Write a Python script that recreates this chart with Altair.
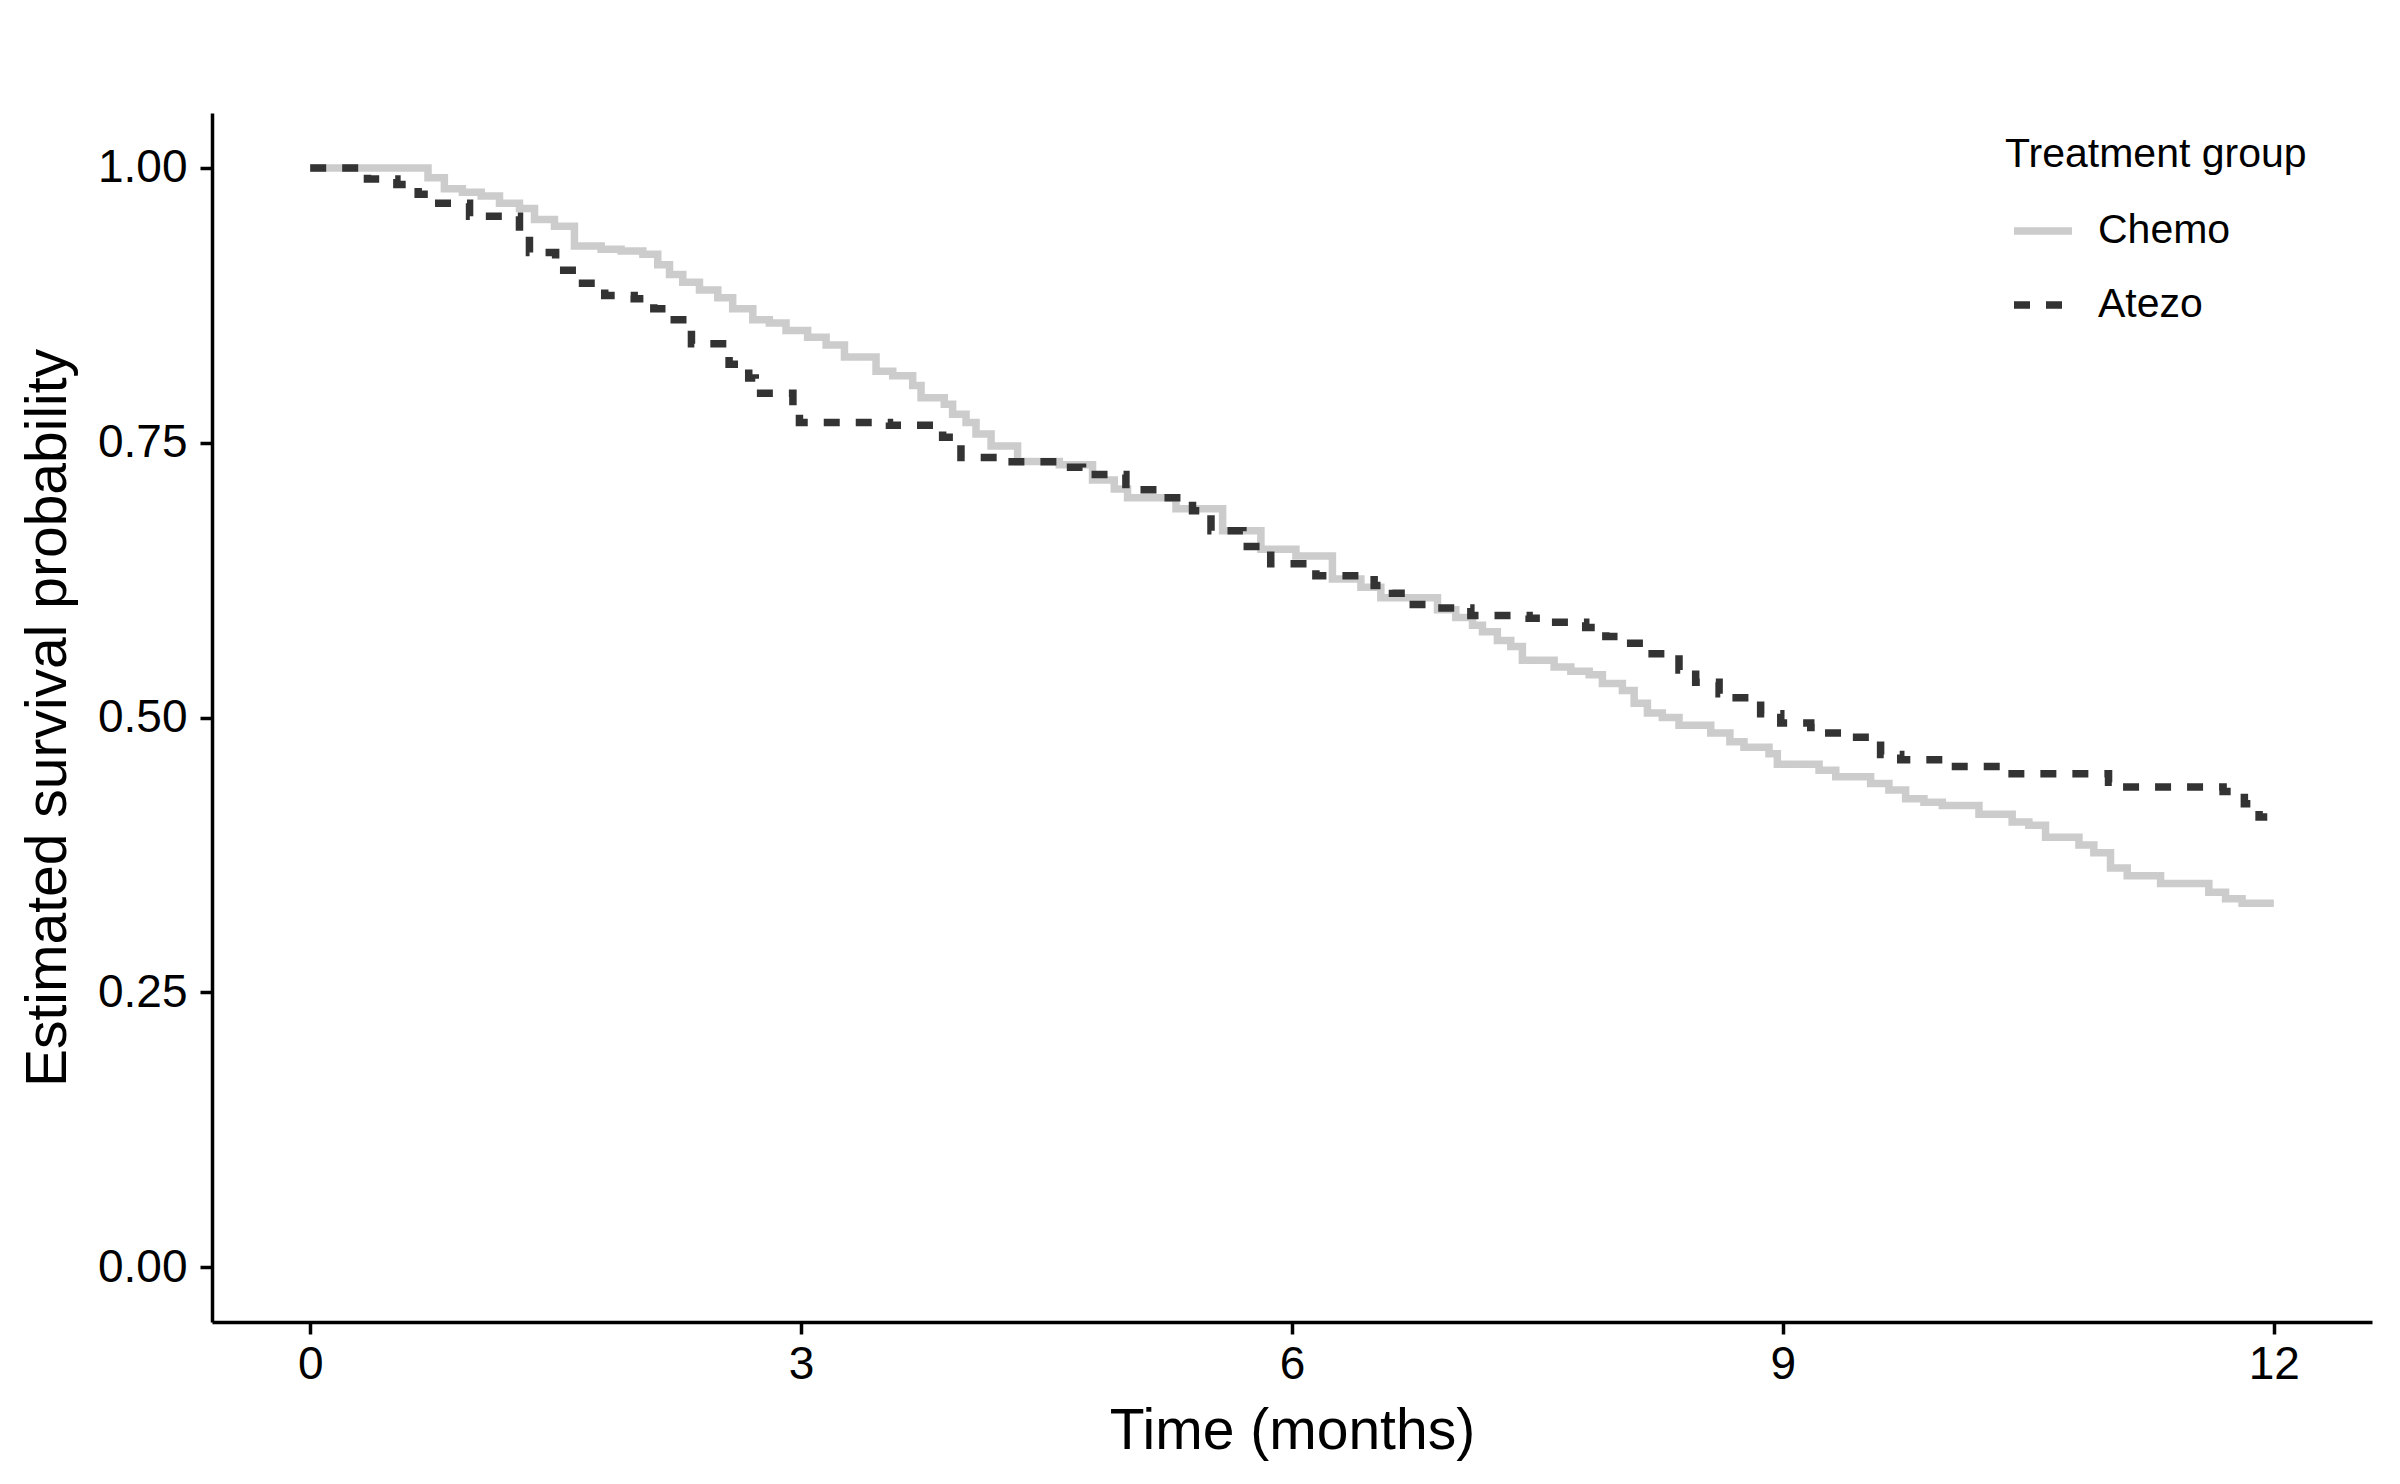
import altair as alt
import pandas as pd

# Kaplan-Meier step points
chemo_time = [0, 0.72, 0.82, 0.93, 1.045, 1.157, 1.279, 1.371, 1.493, 1.615, 1.778, 1.900,
              2.033, 2.124, 2.196, 2.277, 2.379, 2.491, 2.582, 2.705, 2.806, 2.908, 3.04,
              3.153, 3.265, 3.458, 3.560, 3.682, 3.733, 3.875, 3.926, 4.008, 4.069, 4.161,
              4.323, 4.578, 4.781, 4.914, 4.995, 5.291, 5.576, 5.810, 6.024, 6.247, 6.421,
              6.543, 6.889, 7.001, 7.103, 7.164, 7.255, 7.337, 7.408, 7.602, 7.704, 7.816,
              7.897, 8.019, 8.091, 8.172, 8.263, 8.365, 8.559, 8.676, 8.762, 8.915, 8.966,
              9.221, 9.323, 9.536, 9.648, 9.750, 9.862, 9.974, 10.198, 10.401, 10.503,
              10.605, 10.809, 10.900, 11.002, 11.104, 11.308, 11.603, 11.705, 11.806, 12.0]
chemo_surv = [1.0, 0.991, 0.981, 0.978, 0.9745, 0.968, 0.963, 0.953, 0.947, 0.929, 0.926, 0.9245,
              0.9215, 0.912, 0.903, 0.896, 0.889, 0.882, 0.872, 0.862, 0.859, 0.852, 0.846,
              0.839, 0.828, 0.815, 0.811, 0.802, 0.791, 0.785, 0.776, 0.7685, 0.758, 0.747,
              0.733, 0.730, 0.716, 0.708, 0.700, 0.690, 0.670, 0.653, 0.647, 0.626, 0.6185,
              0.609, 0.598, 0.591, 0.584, 0.578, 0.570, 0.5645, 0.552, 0.546, 0.542, 0.539,
              0.531, 0.5245, 0.513, 0.504, 0.500, 0.493, 0.486, 0.478, 0.473, 0.467, 0.4575,
              0.452, 0.446, 0.440, 0.434, 0.426, 0.423, 0.420, 0.412, 0.405, 0.402,
              0.391, 0.384, 0.377, 0.363, 0.356, 0.349, 0.341, 0.335, 0.331, 0.331]

atezo_time = [0, 0.35, 0.53, 0.66, 0.75, 0.974, 1.279, 1.34, 1.50, 1.63, 1.80, 1.98, 2.10,
              2.20, 2.33, 2.56, 2.68, 2.72, 2.95, 2.99, 3.54, 3.865, 3.977, 4.22, 4.62, 4.72,
              4.985, 5.199, 5.392, 5.505, 5.70, 5.87, 6.146, 6.502, 6.614, 6.706, 6.879,
              7.093, 7.449, 7.571, 7.795, 7.918, 8.03, 8.172, 8.365, 8.467, 8.61, 8.67,
              8.864, 8.987, 9.17, 9.231, 9.404, 9.597, 9.72, 9.995, 10.35, 10.99, 11.07,
              11.69, 11.82, 11.91, 11.96]
atezo_surv = [1.0, 0.990, 0.985, 0.976, 0.968, 0.956, 0.940, 0.923, 0.907, 0.895, 0.884, 0.881,
              0.872, 0.862, 0.840, 0.8215, 0.809, 0.795, 0.783, 0.7685, 0.766, 0.755, 0.7366,
              0.7327, 0.7276, 0.721, 0.7073, 0.700, 0.688, 0.670, 0.6555, 0.640, 0.629, 0.620,
              0.613, 0.6027, 0.5997, 0.5927, 0.5903, 0.5867, 0.582, 0.5736, 0.5676, 0.558,
              0.5433, 0.532, 0.5215, 0.518, 0.5033, 0.495, 0.491, 0.4858, 0.482, 0.4664,
              0.4615, 0.4555, 0.4488, 0.441, 0.4367, 0.4327, 0.4215, 0.4094, 0.4094]

groups = ["Chemo", "Atezo"]
group_colors = ["#CCCCCC", "#333333"]
x_ticks = [0, 3, 6, 9, 12]
y_ticks = [0, 0.25, 0.5, 0.75, 1.0]

df = pd.concat([
    pd.DataFrame({"time": chemo_time, "surv": chemo_surv, "group": "Chemo", "ord": 0}),
    pd.DataFrame({"time": atezo_time, "surv": atezo_surv, "group": "Atezo", "ord": 1}),
], ignore_index=True)

FONT = "Liberation Sans"

chart = alt.Chart(df).mark_line(interpolate="step-after", strokeWidth=7.5, strokeCap="butt").encode(
    x=alt.X("time:Q",
            scale=alt.Scale(domain=[-0.6, 12.6], nice=False, zero=False),
            axis=alt.Axis(title="Time (months)", values=x_ticks, format="d",
                          labelFontSize=46, titleFontSize=57, titlePadding=16,
                          labelPadding=8, tickSize=12)),
    y=alt.Y("surv:Q",
            scale=alt.Scale(domain=[-0.05, 1.05], nice=False, zero=False),
            axis=alt.Axis(title="Estimated survival probability", values=y_ticks, format=".2f",
                          labelFontSize=46, titleFontSize=57, titlePadding=20,
                          labelPadding=13, tickSize=12)),
    color=alt.Color("group:N",
                    scale=alt.Scale(domain=groups, range=group_colors),
                    legend=alt.Legend(title="Treatment group", orient="none",
                                      legendX=1793, legendY=22,
                                      symbolType="stroke", symbolSize=3364,
                                      symbolStrokeWidth=7.5, symbolOffset=5,
                                      labelFontSize=41, titleFontSize=41,
                                      titleFontWeight="normal", titlePadding=22,
                                      titleLimit=0, labelLimit=0,
                                      labelOffset=22, rowPadding=21,
                                      titleColor="black", labelColor="black")),
    strokeDash=alt.StrokeDash("group:N",
                              scale=alt.Scale(domain=groups, range=[[1, 0], [16, 16]]),
                              legend=None),
    order=alt.Order("ord:Q"),
).properties(
    width=2160, height=1209,
    autosize=alt.AutoSizeParams(type="none"),
    padding={"left": 204, "top": 105, "right": 20, "bottom": 140},
).configure(
    font=FONT,
).configure_view(
    stroke=None
).configure_axis(
    grid=False, domainColor="black", domainWidth=3.5, tickColor="black", tickWidth=3.5,
    labelColor="black", titleColor="black", titleFontWeight="normal",
    labelFont=FONT, titleFont=FONT,
).configure_legend(
    labelFont=FONT, titleFont=FONT,
)

chart.save("out.html", embed_options={"renderer": "svg", "actions": False})
